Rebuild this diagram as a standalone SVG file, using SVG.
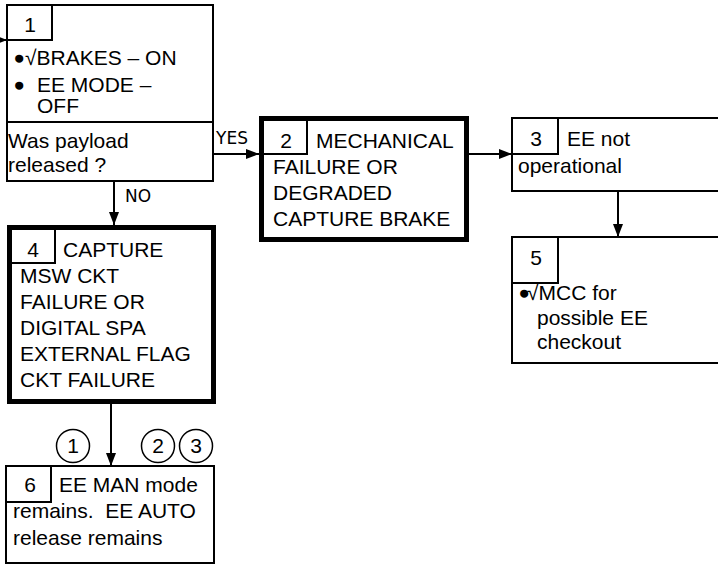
<svg xmlns="http://www.w3.org/2000/svg" width="718" height="572" viewBox="0 0 718 572">
<style>
.b{fill:#fff;stroke:#000;stroke-width:2}
.bt{fill:#fff;stroke:#000;stroke-width:5}
.nb{fill:none;stroke:#000;stroke-width:2}
.t{font-family:"Liberation Sans",Arial,sans-serif;font-size:21px;fill:#000}
.c{text-anchor:middle}
.bu{font-size:24px;stroke:#000;stroke-width:1.6}
.lbl{font-family:"DejaVu Sans",sans-serif;font-size:17px;fill:#000}
.ln{stroke:#000;stroke-width:2;fill:none}
.circ{fill:#fff;stroke:#000;stroke-width:1.5}
</style>
<defs>
<marker id="ah" markerUnits="userSpaceOnUse" markerWidth="14" markerHeight="11" refX="13" refY="5" orient="auto">
<path d="M0,0 L13,5 L0,10 z" fill="#000"/>
</marker>
</defs>
<rect width="718" height="572" fill="#fff"/>
<g id="connectors">
<line class="ln" x1="-10" y1="40" x2="7" y2="40" marker-end="url(#ah)"/>
<line class="ln" x1="213" y1="154" x2="259" y2="154" marker-end="url(#ah)"/>
<line class="ln" x1="469" y1="154" x2="512" y2="154" marker-end="url(#ah)"/>
<line class="ln" x1="618" y1="191" x2="618" y2="237" marker-end="url(#ah)"/>
<line class="ln" x1="114" y1="181" x2="114" y2="225" marker-end="url(#ah)"/>
<line class="ln" x1="111" y1="404" x2="111" y2="466" marker-end="url(#ah)"/>
<text class="lbl" x="216" y="144">YES</text>
<text class="lbl" x="125" y="202">NO</text>
</g>
<g id="node1">
<rect class="b" x="7" y="5" width="206" height="176"/>
<line class="ln" x1="7" y1="122" x2="213" y2="122"/>
<polyline class="nb" points="52,5 52,40 7,40"/>
<text class="t c" x="30" y="32">1</text>
<text class="t bu" x="15" y="67">•</text>
<text class="t" x="25" y="65">√BRAKES – ON</text>
<text class="t bu" x="15" y="94">•</text>
<text class="t" x="37" y="92">EE MODE –</text>
<text class="t" x="37" y="113">OFF</text>
<text class="t" x="8" y="148">Was payload</text>
<text class="t" x="8" y="172">released ?</text>
</g>
<g id="node2">
<rect class="bt" x="261.5" y="118.5" width="205" height="121"/>
<polyline class="nb" points="307,118 307,154 261,154"/>
<text class="t c" x="286" y="148">2</text>
<text class="t" x="316" y="148">MECHANICAL</text>
<text class="t" x="273" y="174">FAILURE OR</text>
<text class="t" x="273" y="200">DEGRADED</text>
<text class="t" x="273" y="226">CAPTURE BRAKE</text>
</g>
<g id="node3">
<rect class="b" x="512" y="118" width="230" height="73"/>
<polyline class="nb" points="558,118 558,154 512,154"/>
<text class="t c" x="536" y="146">3</text>
<text class="t" x="567" y="146">EE not</text>
<text class="t" x="518" y="173">operational</text>
</g>
<g id="node5">
<rect class="b" x="512" y="237" width="230" height="126"/>
<polyline class="nb" points="558,237 558,283 512,283"/>
<text class="t c" x="536" y="265">5</text>
<text class="t bu" x="520" y="302">•</text>
<text class="t" x="527" y="300">√MCC for</text>
<text class="t" x="537" y="325">possible EE</text>
<text class="t" x="537" y="349">checkout</text>
</g>
<g id="node4">
<rect class="bt" x="9.5" y="227.5" width="204" height="174"/>
<polyline class="nb" points="55,227 55,263 9,263"/>
<text class="t c" x="33" y="257">4</text>
<text class="t" x="63" y="257">CAPTURE</text>
<text class="t" x="20" y="283">MSW CKT</text>
<text class="t" x="20" y="309">FAILURE OR</text>
<text class="t" x="20" y="335">DIGITAL SPA</text>
<text class="t" x="20" y="361">EXTERNAL FLAG</text>
<text class="t" x="20" y="387">CKT FAILURE</text>
</g>
<g id="node6">
<rect class="b" x="6" y="466" width="208" height="97"/>
<polyline class="nb" points="51,466 51,502 6,502"/>
<text class="t c" x="30" y="492">6</text>
<text class="t" x="59" y="492">EE MAN mode</text>
<text class="t" x="13" y="518" xml:space="preserve">remains.  EE AUTO</text>
<text class="t" x="13" y="545">release remains</text>
</g>
<g id="notes">
<circle class="circ" cx="73" cy="446" r="16.5"/>
<text class="t c" x="73" y="453">1</text>
<circle class="circ" cx="158" cy="446" r="16.5"/>
<text class="t c" x="158" y="453">2</text>
<circle class="circ" cx="196" cy="446" r="16.5"/>
<text class="t c" x="196" y="453">3</text>
</g>
</svg>
